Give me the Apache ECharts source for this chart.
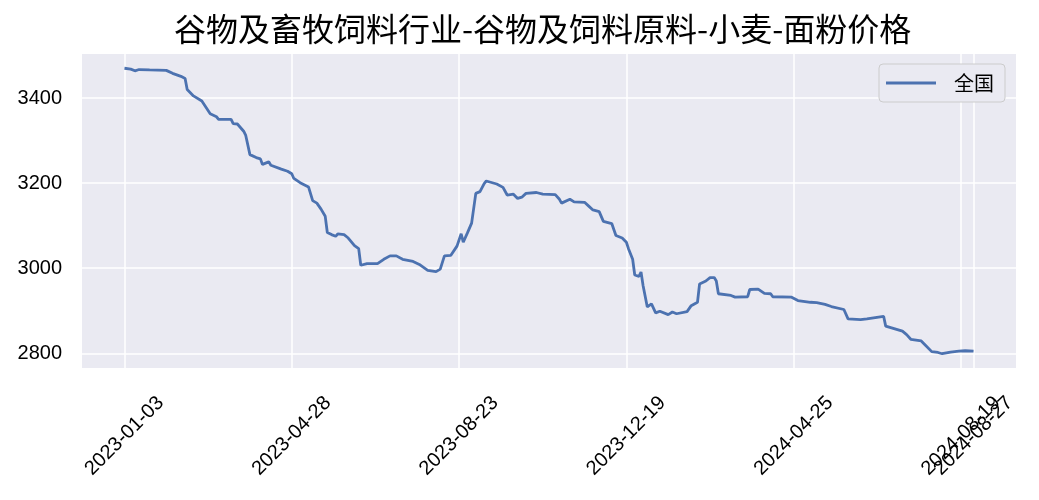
<!DOCTYPE html>
<html>
<head>
<meta charset="utf-8">
<script src="https://cdn.jsdelivr.net/npm/echarts@6/dist/echarts.min.js"></script>
<style>
  html, body { margin: 0; padding: 0; background: #fff; }
  #Grf { width: 1039px; height: 500px; }
</style>
</head>
<body>
<div id="Grf"></div>
<script>
const dayIdx = [0, 3, 5, 7, 12, 20, 23, 27, 29, 30, 33, 37, 41, 44, 45, 51, 52, 54, 57, 58,
  60, 63, 65, 66, 69, 70, 75, 78, 80, 81, 84, 88, 90, 92, 94, 96, 97, 99, 101, 102,
  105, 107, 110, 112, 113, 116, 121, 124, 127, 130, 133, 138, 141, 145, 149, 151, 153, 156, 159, 161,
  162, 164, 166, 168, 170, 172, 173, 178, 181, 183, 186, 188, 190, 192, 197, 200, 206, 208, 209, 213,
  215, 220, 222, 224, 227, 229, 233, 235, 238, 240, 241, 243, 244, 246, 247, 248, 250, 252, 254, 256,
  260, 262, 264, 269, 271, 274, 275, 278, 280, 282, 283, 284, 290, 292, 298, 299, 303, 306, 309, 310,
  319, 322, 328, 331, 335, 338, 344, 346, 352, 355, 359, 363, 364, 368, 372, 374, 376, 381, 383, 386,
  389, 391, 395, 399, 402, 406];
const price = [3470, 3468, 3464, 3467, 3466, 3465, 3458, 3451, 3446, 3420, 3405, 3393, 3363, 3356, 3350, 3350, 3340, 3339, 3322, 3312,
  3267, 3260, 3257, 3244, 3250, 3242, 3233, 3228, 3222, 3211, 3201, 3191, 3159, 3153, 3139, 3122, 3084, 3079, 3075, 3081,
  3079, 3071, 3053, 3046, 3007, 3011, 3011, 3021, 3029, 3029, 3021, 3016, 3009, 2995, 2992, 2998, 3029, 3030, 3052, 3081,
  3061, 3083, 3106, 3176, 3180, 3199, 3205, 3198, 3190, 3172, 3174, 3164, 3167, 3176, 3178, 3174, 3173, 3162, 3153, 3162,
  3156, 3155, 3146, 3137, 3133, 3110, 3105, 3077, 3071, 3061, 3046, 3021, 2984, 2981, 2991, 2959, 2909, 2916, 2895, 2899,
  2891, 2897, 2893, 2898, 2912, 2920, 2963, 2970, 2978, 2978, 2970, 2940, 2936, 2932, 2933, 2950, 2951, 2941, 2940, 2933,
  2932, 2924, 2920, 2919, 2915, 2910, 2903, 2881, 2879, 2881, 2884, 2887, 2864, 2858, 2852, 2844, 2833, 2829, 2819, 2804,
  2802, 2799, 2803, 2805, 2806, 2805];

// the last tick sits on its own axis so it is not hidden by the overlapping 08-19 label
const tickIdx = [0, 80, 160, 240, 320, 400];
const tickLabel = ['2023-01-03', '2023-04-28', '2023-08-23', '2023-12-19', '2024-04-25', '2024-08-19'];
const lastIdx = [406];
const lastLabel = ['2024-08-27'];
const yTicks = [2800, 3000, 3200, 3400];

const xLabelStyle = {
  hideOverlap: false,
  rotate: 45,
  align: 'center',
  verticalAlign: 'middle',
  margin: 68,
  fontFamily: 'Liberation Sans',
  fontSize: 20,
  color: '#000'
};

const makeXAxis = (vals, labels) => ({
  type: 'value',
  position: 'bottom',
  min: -20.3,
  max: 426.3,
  axisLine: { show: false },
  axisTick: { show: false, customValues: vals },
  splitLine: { show: true, lineStyle: { color: '#fff', width: 1.5 } },
  axisLabel: Object.assign({}, xLabelStyle, {
    customValues: vals,
    formatter: v => labels[vals.indexOf(v)]
  })
});

const getOption = () => {
  const pts = dayIdx.map((d, i) => [d, price[i]]);
  return {
    animation: false,
    backgroundColor: '#fff',
    title: {
      text: '谷物及畜牧饲料行业-谷物及饲料原料-小麦-面粉价格',
      left: 174,
      top: 13,
      padding: 0,
      textStyle: {
        fontFamily: 'Noto Sans CJK SC',
        fontSize: 32,
        fontWeight: 'normal',
        color: '#000'
      }
    },
    legend: {
      right: 34,
      top: 64,
      orient: 'vertical',
      padding: [9, 11, 9, 7],
      backgroundColor: '#eaeaf2',
      borderColor: '#cccccc',
      borderWidth: 1,
      borderRadius: 4,
      itemWidth: 50,
      itemHeight: 3,
      data: [{ name: '全国', icon: 'rect' }],
      textStyle: {
        fontFamily: 'Noto Sans CJK SC',
        fontSize: 20,
        color: '#000',
        padding: [0, 0, 0, 13]
      }
    },
    grid: {
      left: 82,
      right: 23,
      top: 54,
      bottom: 132,
      show: true,
      backgroundColor: '#eaeaf2',
      borderWidth: 0
    },
    xAxis: [makeXAxis(tickIdx, tickLabel), makeXAxis(lastIdx, lastLabel)],
    yAxis: {
      type: 'value',
      min: 2765.5,
      max: 3503.5,
      axisLine: { show: false },
      axisTick: { show: false, customValues: yTicks },
      splitLine: { show: true, lineStyle: { color: '#fff', width: 1.5 } },
      axisLabel: {
        customValues: yTicks,
        margin: 20,
        fontFamily: 'Liberation Sans',
        fontSize: 20,
        color: '#000',
        formatter: v => String(v)
      }
    },
    series: [
      {
        name: '全国',
        type: 'line',
        xAxisIndex: 0,
        data: pts,
        showSymbol: false,
        symbol: 'none',
        itemStyle: { color: '#4c72b0' },
        lineStyle: { color: '#4c72b0', width: 2.8 }
      }
    ]
  };
};

const initCharts = () => {
  const grafica = echarts.init(document.querySelector('#Grf'));
  grafica.setOption(getOption());
};

initCharts();
</script>
</body>
</html>
